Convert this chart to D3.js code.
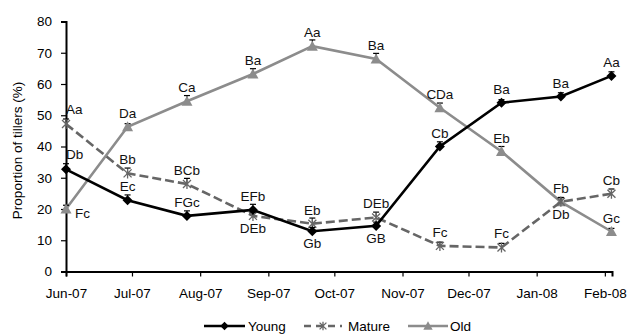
<!DOCTYPE html>
<html>
<head>
<meta charset="utf-8">
<script src="https://cdn.jsdelivr.net/npm/d3@7"></script>
<style>
  body { margin: 0; background: #fff; }
  text { font-family: "Liberation Sans", Arial, sans-serif; }
</style>
</head>
<body>
<div id="chart"></div>
<script>
// sampling dates
const dates = [
  new Date(2007, 5, 1), new Date(2007, 5, 29), new Date(2007, 6, 26),
  new Date(2007, 7, 25), new Date(2007, 8, 21), new Date(2007, 9, 20),
  new Date(2007, 10, 18), new Date(2007, 11, 16), new Date(2008, 0, 12),
  new Date(2008, 1, 4)
]
const monthTicks = [
  new Date(2007, 5, 1), new Date(2007, 6, 1), new Date(2007, 7, 1),
  new Date(2007, 8, 1), new Date(2007, 9, 1), new Date(2007, 10, 1),
  new Date(2007, 11, 1), new Date(2008, 0, 1), new Date(2008, 1, 1)
]
const yTicks = [0, 10, 20, 30, 40, 50, 60, 70, 80]

const young = [32.7, 22.8, 17.8, 19.7, 12.9, 14.6, 40.0, 54.0, 56.0, 62.6]
const mature = [47.2, 31.4, 28.0, 17.8, 15.3, 17.3, 8.2, 7.7, 22.3, 24.9]
const old = [20.0, 46.3, 54.5, 63.2, 72.1, 68.0, 52.4, 38.4, 22.3, 12.8]

const youngErr = [1.8, 1.7, 1.6, 1.8, 1.2, 1.2, 1.5, 1.0, 1.2, 1.3]
const matureErr = [1.6, 1.7, 1.8, 1.2, 1.8, 1.7, 1.2, 1.3, 1.4, 1.5]
const oldErr = [1.2, 1.0, 1.8, 1.7, 2.0, 1.8, 1.5, 1.6, 1.3, 1.0]

const youngLetters = ["Db", "Ec", "FGc", "EFb", "Gb", "GB", "Cb", "Ba", "Ba", "Aa"]
const matureLetters = ["Aa", "Bb", "BCb", "DEb", "Eb", "DEb", "Fc", "Fc", "Db", "Cb"]
const oldLetters = ["Fc", "Da", "Ca", "Ba", "Aa", "Ba", "CDa", "Eb", "Fb", "Gc"]

// where each letter sits: a = above, b = below, ar = above right, r = right
const youngPlace = ["ar", "a", "a", "a", "b", "b", "a", "a", "a", "a"]
const maturePlace = ["ar", "a", "a", "b", "a", "a", "a", "a", "b", "a"]
const oldPlace = ["r", "a", "a", "a", "a", "a", "a", "a", "a", "a"]

const width = 629
const height = 335
const plotLeft = 66, plotRight = 612, plotTop = 21.5, plotBottom = 271.5

const svg = d3.select("#chart")
  .append("svg")
  .attr("width", width)
  .attr("height", height)

const x = d3.scaleTime()
  .domain([new Date(2007, 5, 1), new Date(2008, 1, 4, 6)])
  .range([plotLeft, plotRight])

const y = d3.scaleLinear()
  .domain([0, 80])
  .range([plotBottom, plotTop])

const xAxis = d3.axisBottom(x)
  .tickValues(monthTicks)
  .tickFormat(d3.timeFormat("%b-%y"))
  .tickSize(5)
  .tickPadding(12)

const yAxis = d3.axisLeft(y)
  .tickValues(yTicks)
  .tickSize(5)
  .tickPadding(9)

const gx = svg.append("g")
  .attr("transform", `translate(0 ${plotBottom})`)
  .call(xAxis)
const gy = svg.append("g")
  .attr("transform", `translate(${plotLeft} 0)`)
  .call(yAxis)

for (const g of [gx, gy]) {
  g.select(".domain").attr("stroke", "#000").attr("stroke-width", 2)
  g.selectAll(".tick line").attr("stroke", "#000").attr("stroke-width", 1.2)
  g.selectAll(".tick text")
    .attr("fill", "#000")
    .style("font-size", "13.5px")
    .style("font-family", "'Liberation Sans', Arial, sans-serif")
}

svg.append("text")
  .attr("transform", `translate(22 ${(plotTop + plotBottom) / 2 + 4}) rotate(-90)`)
  .attr("text-anchor", "middle")
  .style("font-size", "13.5px")
  .text("Proportion of tillers (%)")

const series = [
  {name: "Young", values: young, err: youngErr, letters: youngLetters, place: youngPlace,
   color: "#000", dash: null, marker: "diamond"},
  {name: "Mature", values: mature, err: matureErr, letters: matureLetters, place: maturePlace,
   color: "#666", dash: "9 4", marker: "star"},
  {name: "Old", values: old, err: oldErr, letters: oldLetters, place: oldPlace,
   color: "#8c8c8c", dash: null, marker: "triangle"}
]

const line = d3.line()
  .x(d => x(d.date))
  .y(d => y(d.value))

function drawMarker(g, type, color, k = 1) {
  if (type === "diamond") {
    g.append("path").attr("d", `M0,${-5*k}L${5*k},0L0,${5*k}L${-5*k},0Z`).attr("fill", color)
  } else if (type === "triangle") {
    g.append("path").attr("d", `M0,${-5.5*k}L${5.5*k},${4.5*k}L${-5.5*k},${4.5*k}Z`).attr("fill", color)
  } else {
    g.append("path")
      .attr("d", `M${-4*k},${-4*k}L${4*k},${4*k}M${-4*k},${4*k}L${4*k},${-4*k}M0,${-5*k}L0,${5*k}`)
      .attr("stroke", color).attr("stroke-width", 1.3).attr("fill", "none")
  }
}

// draw order: old underneath, then mature, then young on top
const order = [series[2], series[1], series[0]]

order.forEach(s => {
  const pts = s.values.map((v, i) => ({date: dates[i], value: v, err: s.err[i]}))

  svg.append("path")
    .datum(pts)
    .attr("d", line)
    .attr("fill", "none")
    .attr("stroke", s.color)
    .attr("stroke-width", 2.6)
    .attr("stroke-dasharray", s.dash)

  const grp = svg.selectAll(".pt-" + s.name)
    .data(pts)
    .enter()
    .append("g")
    .attr("class", "pt-" + s.name)

  // error bars (upper only)
  grp.append("line")
    .attr("x1", d => x(d.date)).attr("x2", d => x(d.date))
    .attr("y1", d => y(d.value)).attr("y2", d => y(d.value + d.err))
    .attr("stroke", "#000").attr("stroke-width", 1)
  grp.append("line")
    .attr("x1", d => x(d.date) - 3).attr("x2", d => x(d.date) + 3)
    .attr("y1", d => y(d.value + d.err)).attr("y2", d => y(d.value + d.err))
    .attr("stroke", "#000").attr("stroke-width", 1.2)

  grp.each(function(d) {
    const m = d3.select(this).append("g")
      .attr("transform", `translate(${x(d.date)} ${y(d.value)})`)
    drawMarker(m, s.marker, s.color)
  })
})

// letters on top of everything
order.forEach(s => {
  const pts = s.values.map((v, i) => ({date: dates[i], value: v,
    letter: s.letters[i], place: s.place[i]}))
  svg.selectAll(".lab-" + s.name)
    .data(pts)
    .enter()
    .append("text")
    .attr("class", "lab-" + s.name)
    .attr("x", d => d.place === "r" ? x(d.date) + 9 : x(d.date))
    .attr("y", d => {
      const py = y(d.value)
      if (d.place === "b") return py + 17
      if (d.place === "r") return py + 9
      if (d.place === "ar") return py - 10
      return py - 9
    })
    .attr("text-anchor", d => (d.place === "r" || d.place === "ar") ? "start" : "middle")
    .style("font-size", "13.5px")
    .attr("fill", "#111")
    .text(d => d.letter)
})

// legend
const legendY = 326
const legendItems = [
  {s: series[0], x0: 204, x1: 245, tx: 248},
  {s: series[1], x0: 304, x1: 342, tx: 348},
  {s: series[2], x0: 408, x1: 448, tx: 450}
]
legendItems.forEach(li => {
  svg.append("line")
    .attr("x1", li.x0).attr("x2", li.x1)
    .attr("y1", legendY).attr("y2", legendY)
    .attr("stroke", li.s.color)
    .attr("stroke-width", 2.6)
    .attr("stroke-dasharray", li.s.dash ? "7 5" : null)
  const m = svg.append("g")
    .attr("transform", `translate(${(li.x0 + li.x1) / 2} ${legendY})`)
  drawMarker(m, li.s.marker, li.s.color, 0.85)
  svg.append("text")
    .attr("x", li.tx)
    .attr("y", legendY + 5)
    .style("font-size", "13.5px")
    .text(li.s.name)
})
</script>
</body>
</html>
